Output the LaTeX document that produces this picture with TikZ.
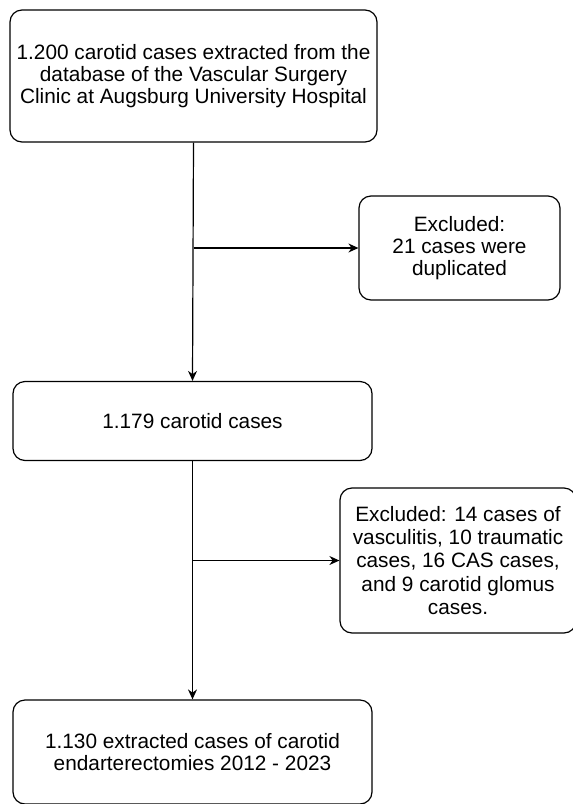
\documentclass[tikz,border=0pt]{standalone}
\usepackage{fontspec}
\setmainfont{Liberation Sans}
\usetikzlibrary{arrows.meta,positioning}

\begin{document}
\begin{tikzpicture}[x=1pt, y=-1pt,
    flowbox/.style={rectangle, rounded corners=12pt, draw, line width=1.2pt, align=center,
                    inner sep=0pt, font=\fontsize{20.8}{22}\selectfont},
    flowarrow/.style={-{Stealth[length=10pt,width=9pt]}, line width=1.2pt}]
    \useasboundingbox (0,0) rectangle (573,804);

    \node[flowbox, minimum width=367pt, minimum height=132pt] (extracted) at (193.5,76)
        {1.200 carotid cases extracted from the\\database of the Vascular Surgery\\Clinic at Augsburg University Hospital};
    \node[flowbox, minimum width=201pt, minimum height=104pt] (duplicates) at (459.5,248)
        {Excluded:\\21 cases were\\duplicated};
    \node[flowbox, minimum width=359pt, minimum height=79pt] (carotid) at (192.5,421)
        {1.179 carotid cases};
    \node[flowbox, minimum width=236pt, minimum height=145pt, font=\fontsize{20.8}{23.3}\selectfont] (excluded) at (458,560.5)
        {Excluded: 14 cases of\\vasculitis, 10 traumatic\\cases, 16 CAS cases,\\and 9 carotid glomus\\cases.};
    \node[flowbox, minimum width=359pt, minimum height=104pt] (endarterectomies) at (192.5,752)
        {1.130 extracted cases of carotid\\endarterectomies 2012 - 2023};

    \coordinate (split1) at (extracted.south |- duplicates.west);
    \coordinate (split2) at (carotid.south |- excluded.west);

    \draw[flowarrow] (extracted.south) -- (carotid.north);
    \draw[flowarrow] (split1) -- (duplicates.west);
    \draw[flowarrow] (carotid.south) -- (endarterectomies.north);
    \draw[flowarrow] (split2) -- (excluded.west);
\end{tikzpicture}
\end{document}
